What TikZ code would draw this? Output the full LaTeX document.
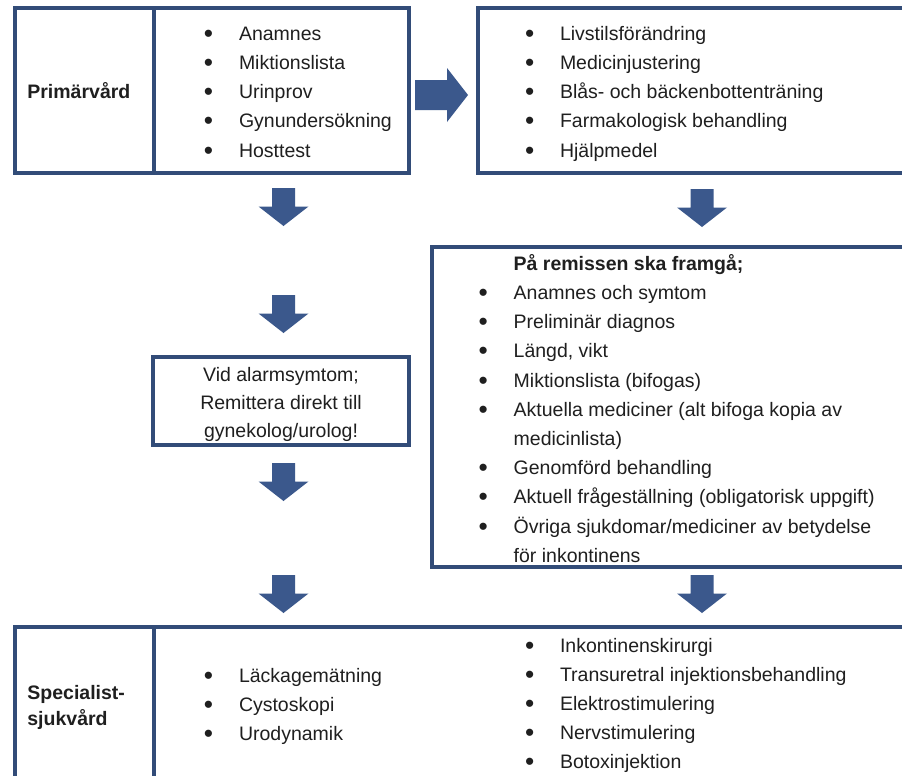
\documentclass[tikz,border=0pt]{standalone}
\usepackage{fontspec}
\setmainfont{Liberation Sans}
\usetikzlibrary{fit}
\definecolor{boxblue}{RGB}{50,76,120}
\definecolor{arrowblue}{RGB}{59,88,140}
\newcommand\blt{\makebox[17.5pt][l]{\raisebox{-1pt}{\scalebox{1.35}{\textbullet}}}}
\newcommand\indentbox{\hspace*{17.5pt}}
\newcommand\listfont{\fontsize{9.75}{14.6}\selectfont}
\tikzset{
  box/.style={draw=boxblue, line width=1.6pt, inner sep=0pt},
  divider/.style={draw=boxblue, line width=1.6pt},
  list/.style={anchor=north west, inner sep=0pt, align=left, font=\listfont, text=black!88},
  caption/.style={inner sep=0pt, align=left, font=\fontsize{9.75}{13}\selectfont\bfseries, text=black!88},
  downblock/.pic={\fill[arrowblue] (-11.5,0) -- (11.5,0) -- (11.5,18.5) -- (25,18.5)
    -- (0,38) -- (-25,18.5) -- (-11.5,18.5) -- cycle;},
  rightblock/.pic={\fill[arrowblue] (0,-15) -- (32,-15) -- (32,-27) -- (53,0)
    -- (32,27) -- (32,15) -- (0,15) -- cycle;}
}

\begin{document}
\begin{tikzpicture}[x=0.5pt, y=-0.5pt]
  \clip (0,0) rectangle (902,776);
  \fill[white] (0,0) rectangle (902,776);

  % boxes
  \node[box, fit={(15,8) (409,173)}] (primbox) {};
  \node[box, fit={(478,8) (940,173)}] (treatbox) {};
  \node[box, fit={(432,247) (940,567)}] (remissbox) {};
  \node[box, fit={(15,627) (940,820)}] (specbox) {};
  \node[box, minimum width=128pt, minimum height=44pt, align=center,
    font=\fontsize{9.75}{14}\selectfont, text=black!88] (alarmbox) at (281,401)
    {\rule{0pt}{11pt}Vid alarmsymtom;\\Remittera direkt till\\gynekolog/urolog!};
  \draw[divider] (154,0 |- primbox.north) -- (154,0 |- primbox.south);
  \draw[divider] (154,0 |- specbox.north) -- (154,0 |- specbox.south);

  % captions
  \node[caption, anchor=base west] (primcap) at (27,98.3) {Primärvård};
  \node[caption, anchor=north west] (speccap) at (27,680.8) {\strut Specialist-\\sjukvård};

  % lists
  \node[list] (primlist) at (203.6,19.5) {\strut\blt Anamnes\\
    \blt Miktionslista\\
    \blt Urinprov\\
    \blt Gynundersökning\\
    \blt Hosttest};
  \node[list] (treatlist) at (524.6,19.5) {\strut\blt Livstilsförändring\\
    \blt Medicinjustering\\
    \blt Blås- och bäckenbottenträning\\
    \blt Farmakologisk behandling\\
    \blt Hjälpmedel};
  \node[list] (remisslist) at (478.3,249.5) {\strut\indentbox\textbf{På remissen ska framgå;}\\
    \blt Anamnes och symtom\\
    \blt Preliminär diagnos\\
    \blt Längd, vikt\\
    \blt Miktionslista (bifogas)\\
    \blt Aktuella mediciner (alt bifoga kopia av\\
    \indentbox medicinlista)\\
    \blt Genomförd behandling\\
    \blt Aktuell frågeställning (obligatorisk uppgift)\\
    \blt Övriga sjukdomar/mediciner av betydelse\\
    \indentbox för inkontinens};
  \node[list] (speclist) at (203.6,661.2) {\strut\blt Läckagemätning\\
    \blt Cystoskopi\\
    \blt Urodynamik};
  \node[list] (therapylist) at (524.6,631.2) {\strut\blt Inkontinenskirurgi\\
    \blt Transuretral injektionsbehandling\\
    \blt Elektrostimulering\\
    \blt Nervstimulering\\
    \blt Botoxinjektion};

  % block arrows
  \coordinate (toright) at (415,95);
  \coordinate (left1) at (283.5,188);
  \coordinate (left2) at (283.5,295);
  \coordinate (left3) at (283.5,463);
  \coordinate (left4) at (283.5,575);
  \coordinate (right1) at (702,189);
  \coordinate (right2) at (702,575);
  \pic at (toright) {rightblock};
  \pic at (left1) {downblock};
  \pic at (left2) {downblock};
  \pic at (left3) {downblock};
  \pic at (left4) {downblock};
  \pic at (right1) {downblock};
  \pic at (right2) {downblock};
\end{tikzpicture}
\end{document}
